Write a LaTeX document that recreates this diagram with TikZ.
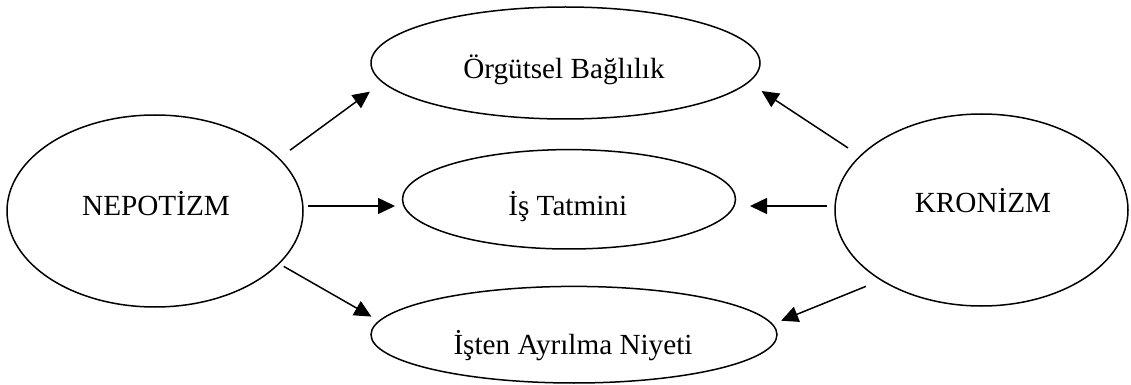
\documentclass[tikz,border=0pt]{standalone}
\usepackage{fontspec}
\setmainfont{Liberation Serif}
\usetikzlibrary{shapes.geometric,arrows.meta}
\begin{document}
\begin{tikzpicture}[x=0.5pt,y=-0.5pt,
  oval/.style={draw, ellipse, line width=0.75pt, inner sep=0pt, outer sep=0pt},
  lbl/.style={anchor=base, inner sep=0pt, font=\fontsize{14.6pt}{17pt}\selectfont},
  conn/.style={line width=0.75pt, -{Triangle[length=8.5pt,width=8pt]}}]
\useasboundingbox (0,0) rectangle (1131,385);
% ovals
\node[oval, minimum width=148pt, minimum height=96pt] (nep) at (155,211) {};
\node[oval, minimum width=146.5pt, minimum height=96pt] (kro) at (981.5,210) {};
\node[oval, minimum width=194.5pt, minimum height=56pt] (org) at (565.5,63) {};
\node[oval, minimum width=166.5pt, minimum height=49.7pt] (ist) at (569,199.3) {};
\node[oval, minimum width=203pt, minimum height=48.3pt] (isten) at (574,334.7) {};
% texts
\node[lbl] (tnep) at (156,215) {NEPOTİZM};
\node[lbl] (tkro) at (983,212.7) {KRONİZM};
\node[lbl] (torg) at (564,79) {Örgütsel Bağlılık};
\node[lbl] (tist) at (567.7,216) {İş Tatmini};
\node[lbl] (tisten) at (573,354) {İşten Ayrılma Niyeti};
% anchors for the horizontal connectors
\coordinate (nepout) at ([yshift=2.5pt]nep.east);
\coordinate (kroout) at ([yshift=2pt]kro.west);
% connectors
\draw[conn, shorten <=7pt, shorten >=8pt] (nep.23.89) -- (org.186.75);
\draw[conn, shorten <=2.5pt, shorten >=3.75pt] (nepout) -- (nepout -| ist.west);
\draw[conn, shorten <=2.8pt, shorten >=4.5pt] (nep.-23.37) -- (isten.176.23);
\draw[conn, shorten <=7.35pt, shorten >=8pt] (kro.156.54) -- (org.-6.61);
\draw[conn, shorten <=4pt, shorten >=7.25pt] (kroout) -- (kroout -| ist.east);
\draw[conn, shorten <=8.35pt, shorten >=4.8pt] (kro.215.16) -- (isten.3.93);
\end{tikzpicture}
\end{document}
